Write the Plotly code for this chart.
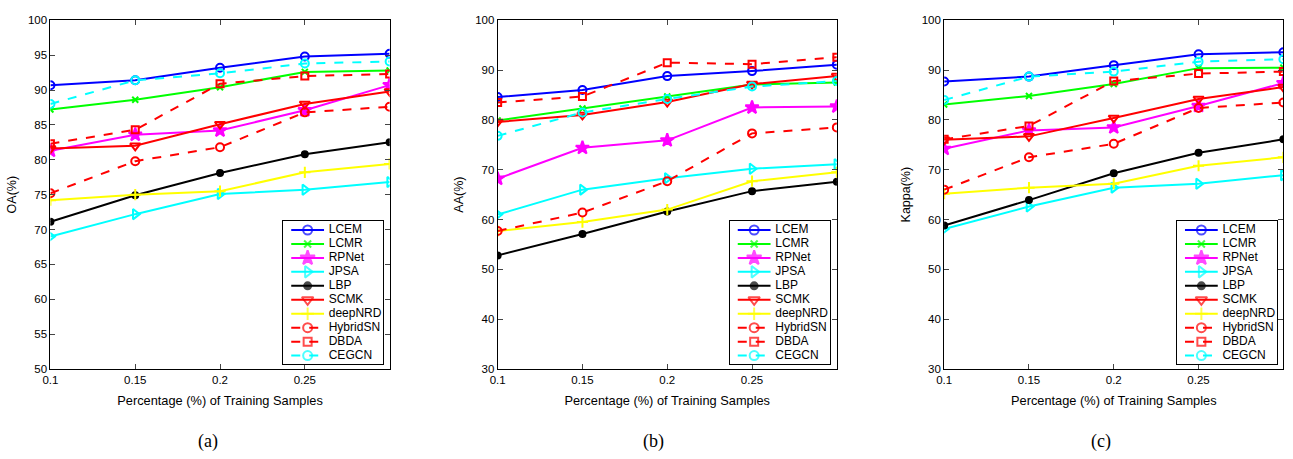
import plotly.graph_objects as go

x_vals = [0.1, 0.15, 0.2, 0.25, 0.3]
methods = ["LCEM", "LCMR", "RPNet", "JPSA", "LBP", "SCMK", "deepNRD", "HybridSN", "DBDA", "CEGCN"]

oa = {
    "LCEM":     [90.7, 91.4, 93.2, 94.8, 95.2],
    "LCMR":     [87.2, 88.6, 90.4, 92.6, 92.8],
    "RPNet":    [81.3, 83.6, 84.2, 87.1, 90.7],
    "JPSA":     [69.0, 72.2, 75.1, 75.7, 76.8],
    "LBP":      [71.1, 74.9, 78.1, 80.8, 82.5],
    "SCMK":     [81.6, 82.0, 85.1, 88.0, 89.8],
    "deepNRD":  [74.2, 75.0, 75.5, 78.2, 79.4],
    "HybridSN": [75.2, 79.8, 81.8, 86.8, 87.6],
    "DBDA":     [82.3, 84.3, 90.9, 92.0, 92.3],
    "CEGCN":    [88.0, 91.4, 92.4, 93.8, 94.1],
}
aa = {
    "LCEM":     [84.6, 86.0, 88.8, 89.8, 91.1],
    "LCMR":     [79.9, 82.3, 84.7, 87.1, 87.5],
    "RPNet":    [68.2, 74.4, 75.9, 82.5, 82.7],
    "JPSA":     [61.0, 66.0, 68.3, 70.2, 71.1],
    "LBP":      [52.8, 57.1, 61.6, 65.7, 67.6],
    "SCMK":     [79.6, 81.0, 83.6, 87.2, 88.8],
    "deepNRD":  [57.7, 59.5, 62.0, 67.7, 69.5],
    "HybridSN": [57.7, 61.4, 67.7, 77.3, 78.5],
    "DBDA":     [83.5, 84.7, 91.5, 91.2, 92.6],
    "CEGCN":    [76.8, 81.5, 84.2, 86.7, 87.8],
}
kappa = {
    "LCEM":     [87.7, 88.7, 91.0, 93.2, 93.6],
    "LCMR":     [83.1, 84.8, 87.2, 90.4, 90.5],
    "RPNet":    [74.2, 77.9, 78.5, 82.8, 87.4],
    "JPSA":     [58.1, 62.6, 66.4, 67.2, 68.9],
    "LBP":      [58.8, 63.9, 69.3, 73.4, 76.1],
    "SCMK":     [76.0, 76.7, 80.4, 84.2, 86.6],
    "deepNRD":  [65.2, 66.4, 67.2, 70.8, 72.5],
    "HybridSN": [66.0, 72.5, 75.2, 82.4, 83.5],
    "DBDA":     [76.1, 78.8, 87.8, 89.3, 89.7],
    "CEGCN":    [84.0, 88.7, 89.7, 91.7, 92.2],
}

x_ticks = [0.1, 0.15, 0.2, 0.25]
x_ticklabels = ["0.1", "0.15", "0.2", "0.25"]
y_titles = ["OA(%)", "AA(%)", "Kappa(%)"]
panel_labels = ["(a)", "(b)", "(c)"]

style = {
    "LCEM":     dict(color="#0000ff", dash="solid", symbol="circle-open", size=8),
    "LCMR":     dict(color="#00ff00", dash="solid", symbol="x-thin-open", size=6),
    "RPNet":    dict(color="#ff00ff", dash="solid", symbol="star", size=10),
    "JPSA":     dict(color="#00ffff", dash="solid", symbol="triangle-right-open", size=9),
    "LBP":      dict(color="#000000", dash="solid", symbol="circle", size=6),
    "SCMK":     dict(color="#ff0000", dash="solid", symbol="triangle-down-open", size=9),
    "deepNRD":  dict(color="#ffff00", dash="solid", symbol="cross-thin-open", size=8),
    "HybridSN": dict(color="#ff0000", dash="dash", symbol="circle-open", size=8),
    "DBDA":     dict(color="#ff0000", dash="dash", symbol="square-open", size=7),
    "CEGCN":    dict(color="#00ffff", dash="dash", symbol="circle-open", size=8),
}

W, H = 1293, 459
x_domains = [(42.7 / W, 384 / W), (492.7 / W, 834 / W), (942 / W, 1283.3 / W)]
y_domain = (1 - 372.7 / H, 1 - 14.7 / H)
y_ranges = [(50, 100), (30, 100), (30, 100)]
y_dticks = [5, 10, 10]
# legend box geometry (pixels)
leg_left = [276.7, 726.0, 1176.0]
leg_w, leg_top, leg_h = 101.0, 220.7, 147.0
leg_first, leg_step = 9.3, 14.33
leg_line = (8.3, 41.3)
leg_text_x = 46.0
label_x = [201 / W, 650 / W, 1099.5 / W]

fig = go.Figure()
datasets = [oa, aa, kappa]
for p, data in enumerate(datasets):
    suffix = "" if p == 0 else str(p + 1)
    for m in methods:
        s = style[m]
        fig.add_trace(go.Scatter(
            x=x_vals, y=data[m], name=m, mode="lines+markers", showlegend=False,
            xaxis="x" + suffix, yaxis="y" + suffix,
            line=dict(color=s["color"], width=2, dash=s["dash"]),
            marker=dict(symbol=s["symbol"], size=s["size"], color=s["color"],
                        line=dict(color=s["color"], width=2)),
        ))

# legend drawn inside a small boxed axis per panel
for p in range(3):
    lsuf = str(p + 4)
    for i, m in enumerate(methods):
        s = style[m]
        yy = leg_first + leg_step * i
        xm = (leg_line[0] + leg_line[1]) / 2
        fig.add_trace(go.Scatter(
            x=[leg_line[0], xm, leg_line[1]], y=[yy, yy, yy], mode="lines+markers",
            showlegend=False, hoverinfo="skip",
            xaxis="x" + lsuf, yaxis="y" + lsuf,
            line=dict(color=s["color"], width=2, dash=s["dash"]),
            marker=dict(symbol=s["symbol"], size=[0, s["size"] + 1, 0], color=s["color"],
                        line=dict(color=s["color"], width=2)),
        ))
    fig.add_trace(go.Scatter(
        x=[leg_text_x] * len(methods),
        y=[leg_first + leg_step * i for i in range(len(methods))],
        text=methods, mode="text", textposition="middle right",
        textfont=dict(size=12, color="black"),
        showlegend=False, hoverinfo="skip",
        xaxis="x" + lsuf, yaxis="y" + lsuf,
    ))

font_family = "Liberation Sans, Arial, sans-serif"
layout = dict(
    width=W, height=H,
    margin=dict(l=0, r=0, t=0, b=0),
    paper_bgcolor="white", plot_bgcolor="white",
    font=dict(family=font_family, size=12, color="black"),
    showlegend=False,
)
for p in range(3):
    suffix = "" if p == 0 else str(p + 1)
    layout["xaxis" + suffix] = dict(
        domain=list(x_domains[p]), anchor="y" + suffix, range=[0.1, 0.3],
        tickvals=x_ticks, ticktext=x_ticklabels, ticks="inside", ticklen=5,
        showline=True, linecolor="black", linewidth=1, mirror="ticks",
        showgrid=False, zeroline=False,
        tickfont=dict(size=11.5), title=dict(text="Percentage (%) of Training Samples",
                                             font=dict(size=12.8), standoff=11),
    )
    layout["yaxis" + suffix] = dict(
        domain=list(y_domain), anchor="x" + suffix, range=list(y_ranges[p]),
        dtick=y_dticks[p], tick0=0, ticks="inside", ticklen=5,
        showline=True, linecolor="black", linewidth=1, mirror="ticks",
        showgrid=False, zeroline=False,
        tickfont=dict(size=11.5), title=dict(text=y_titles[p], font=dict(size=12.5), standoff=8),
    )
    lsuf = str(p + 4)
    layout["xaxis" + lsuf] = dict(
        domain=[leg_left[p] / W, (leg_left[p] + leg_w) / W], anchor="y" + lsuf,
        range=[0, leg_w], showticklabels=False, ticks="", showgrid=False, zeroline=False,
        showline=True, linecolor="black", linewidth=1, mirror=True, fixedrange=True,
    )
    layout["yaxis" + lsuf] = dict(
        domain=[1 - (leg_top + leg_h) / H, 1 - leg_top / H], anchor="x" + lsuf,
        range=[leg_h, 0], showticklabels=False, ticks="", showgrid=False, zeroline=False,
        showline=True, linecolor="black", linewidth=1, mirror=True, fixedrange=True,
    )
fig.update_layout(**layout)

for p in range(3):
    fig.add_annotation(
        x=label_x[p], y=1 - 447 / H, xref="paper", yref="paper",
        xanchor="center", yanchor="middle",
        text=panel_labels[p], showarrow=False,
        font=dict(family="Liberation Serif, Times New Roman, serif", size=18),
    )

fig.write_html("out.html")
